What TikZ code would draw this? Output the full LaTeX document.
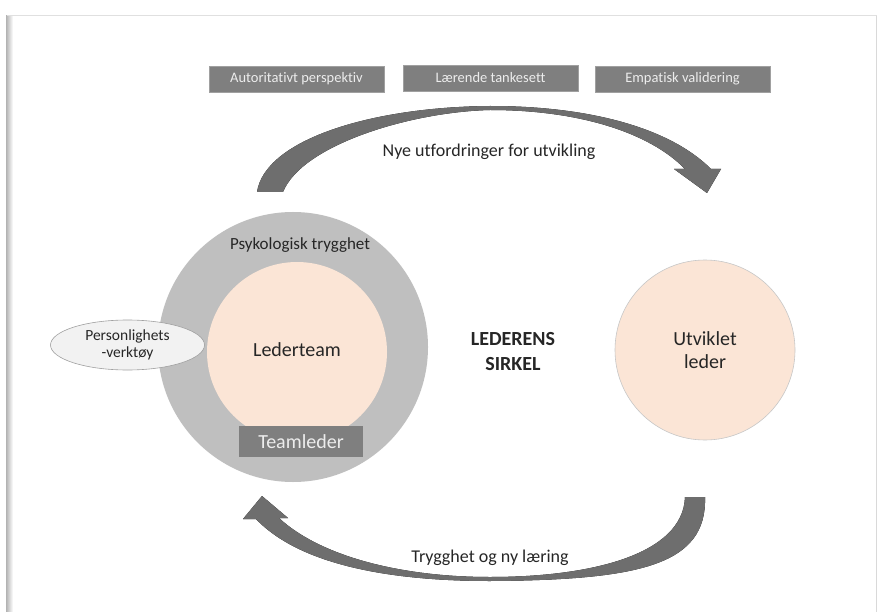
\documentclass[tikz,border=0pt]{standalone}
\usepackage{fontspec}
\setmainfont{Carlito}[Ligatures=CommonOff]
\usetikzlibrary{shapes.geometric}

\definecolor{boxgray}{HTML}{7F7F7F}
\definecolor{boxedge}{HTML}{A0A0A0}
\definecolor{ringgray}{HTML}{BFBFBF}
\definecolor{peach}{HTML}{FBE5D6}
\definecolor{pale}{HTML}{F2F2F2}
\definecolor{ink}{HTML}{262626}
\definecolor{arrdark}{HTML}{6E6E6E}
\definecolor{arrlight}{HTML}{BCBCBC}

\tikzset{
  topbox/.style={fill=boxgray, draw=boxedge, line width=0.6pt,
    minimum width=175pt, minimum height=26pt, inner sep=0pt,
    text=white!93!black, font=\fontsize{14.5}{17}\selectfont},
  plain/.style={text=ink, inner sep=0pt, align=center},
  arrowbody/.style={left color=arrdark, middle color=arrlight, right color=arrdark},
}

\begin{document}
\begin{tikzpicture}[x=1pt, y=-1pt]
\useasboundingbox (0,0) rectangle (877,612);
\fill[white] (0,0) rectangle (877,612);

% card outline with a soft shadow on its left side
\fill[left color=black!30, right color=white] (6,16) rectangle (13,612);
\draw[black!12, line width=1.5pt] (7,15.5) -- (877,15.5);
\draw[black!15, line width=1pt] (876,16) -- (876,612);

% three themes along the top
\node[topbox] (auth) at (296.5,79) {Autoritativt perspektiv};
\node[topbox] (learn) at (490.5,78) {Lærende tankesett};
\node[topbox] (empat) at (682.5,79) {Empatisk validering};

% upper curved arrow
\fill[arrowbody] (257,192) .. controls (265,140) and (370,107) .. (490,106)
  .. controls (590,106) and (670,128) .. (711,169) -- (721,169) -- (707,193)
  -- (674,169) -- (685,169) .. controls (650,133) and (580,110) .. (490,110)
  .. controls (410,112) and (302,145) .. (283,192) -- cycle;
\node[plain, font=\fontsize{18}{21}\selectfont] (nye) at (489,152) {Nye utfordringer for utvikling};

% lower curved arrow
\fill[arrowbody] (705,497) .. controls (707,565) and (640,580) .. (490,581)
  .. controls (390,581) and (300,565) .. (256,519) -- (243,519) -- (262,496)
  -- (288,518) -- (279,518) .. controls (320,556) and (400,577) .. (490,577)
  .. controls (590,577) and (683,555) .. (685,497) -- cycle;
\node[plain, font=\fontsize{18}{21}\selectfont] (trygg) at (490,558) {Trygghet og ny læring};

% leadership team inside psychological safety
\node[circle, fill=ringgray, minimum size=270pt, inner sep=0pt] (ring) at (293,347) {};
\node[circle, fill=peach, minimum size=180pt, inner sep=0pt] (core) at (297,352) {};
\node[plain, font=\fontsize{17}{20}\selectfont] (psyk) at (300,245) {Psykologisk trygghet};
\node[plain, font=\fontsize{20}{24}\selectfont] (team) at (297,350) {Lederteam};
\node[fill=boxgray, minimum width=124pt, minimum height=31pt, inner sep=0pt,
  text=white!93!black, font=\fontsize{20}{24}\selectfont] (tl) at (301,441.5) {Teamleder};

% personality tools
\node[ellipse, draw=boxedge, fill=pale, line width=0.6pt, minimum width=154pt,
  minimum height=50pt, inner sep=0pt, align=center, text=ink,
  font=\fontsize{15.5}{17}\selectfont] (pers) at (127.5,345) {Personlighets\\-verktøy};

% centre title
\node[plain, font=\bfseries\fontsize{20}{25}\selectfont] (title) at (513,352) {LEDERENS\\SIRKEL};

% developed leader
\node[circle, draw=black!22, fill=peach, line width=0.6pt, minimum size=180pt,
  inner sep=0pt, align=center, text=ink, font=\fontsize{20}{23.5}\selectfont] (dev) at (705,350) {Utviklet\\leder};
\end{tikzpicture}
\end{document}
